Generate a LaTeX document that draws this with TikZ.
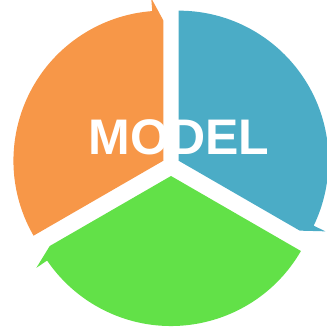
\documentclass[tikz,border=0pt]{standalone}
\usepackage{fontspec}
\setmainfont{Liberation Sans}
\usepackage{xcolor}
\usepackage{tikz}
\definecolor{segorange}{RGB}{247,151,72}
\definecolor{segblue}{RGB}{75,172,198}
\definecolor{seggreen}{RGB}{98,225,72}
\tikzstyle{segment} = [draw=none]
\tikzstyle{modeltext} = [text=white, anchor=base, inner sep=0pt, font=\fontsize{50}{60}\selectfont\bfseries]

\begin{document}
\begin{tikzpicture}[x=1pt, y=1pt]

      \useasboundingbox (-171,-162) rectangle (156,165);

      % Segments
      \fill [segment, segorange, shift={(150:8.7)}] (0,0) -- (210:150) arc [start angle=210, end angle=94.3, radius=150] -- (94.3:163) -- (90:140) -- cycle;
      \fill [segment, segblue, shift={(30:8.7)}] (0,0) -- (90:150) arc [start angle=90, end angle=-25.7, radius=150] -- (-25.7:163) -- (-30:140) -- cycle;
      \fill [segment, seggreen, shift={(270:11)}] (0,0) -- (330:150) arc [start angle=330, end angle=214.3, radius=150] -- (214.3:163) -- (210:140) -- cycle;

      % Text
      \node (model) [modeltext] at (8,11) {MODEL};

    \end{tikzpicture}
\end{document}
